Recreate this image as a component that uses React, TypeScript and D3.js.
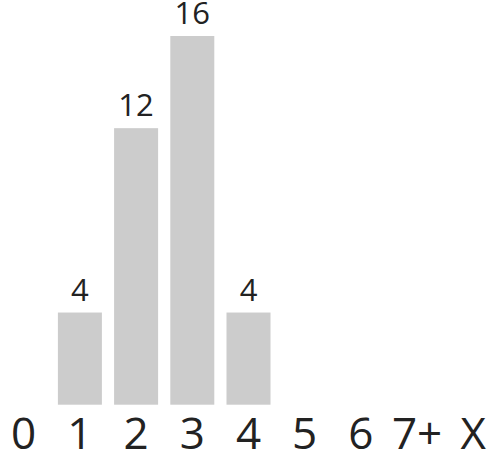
import React from "react";
import * as d3 from "d3";

const categories = ["0", "1", "2", "3", "4", "5", "6", "7+", "X"];
const counts = [0, 4, 12, 16, 4, 0, 0, 0, 0];

const W = 497;
const H = 451;
const baseY = 404.7;
const topY = 36;

export default function App() {
  const x = d3
    .scaleBand<string>()
    .domain(categories)
    .range([0, W])
    .paddingInner(0.217)
    .paddingOuter(0.03);
  const y = d3.scaleLinear().domain([0, 16]).range([baseY, topY]);
  const font = "'Open Sans', 'Noto Sans', sans-serif";
  return (
    <svg
      width={W}
      height={H}
      style={{ position: "absolute", left: 0, top: 0, background: "#fff" }}
    >
      {categories.map((c, i) => {
        const v = counts[i];
        const bx = x(c)!;
        const cx = bx + x.bandwidth() / 2;
        return (
          <g key={c}>
            {v > 0 && (
              <>
                <rect
                  x={bx}
                  y={y(v)}
                  width={x.bandwidth()}
                  height={baseY - y(v)}
                  fill="#cccccc"
                />
                <text
                  x={cx}
                  y={y(v) - 12}
                  textAnchor="middle"
                  fontFamily={font}
                  fontSize={31}
                  fill="#222"
                >
                  {v}
                </text>
              </>
            )}
            <text
              x={cx}
              y={449}
              textAnchor="middle"
              fontFamily={font}
              fontSize={44}
              fill="#222"
            >
              {c}
            </text>
          </g>
        );
      })}
    </svg>
  );
}
